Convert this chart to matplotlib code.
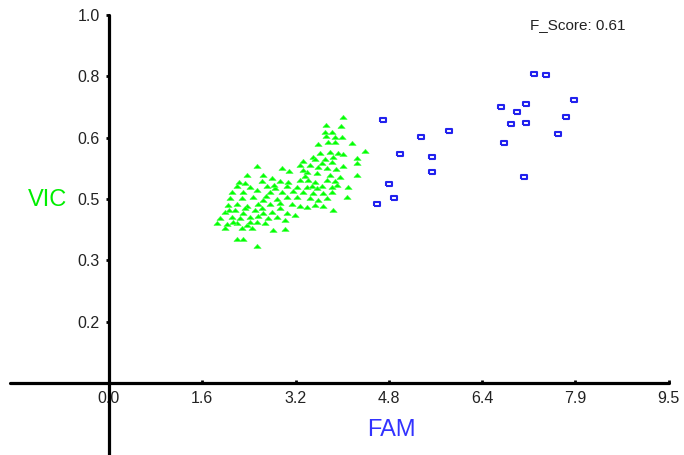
import matplotlib
matplotlib.use("Agg")
import matplotlib.pyplot as plt

# green class (triangles): FAM, VIC
green_x = [3.97, 3.68, 3.94, 3.67, 3.79, 3.68, 3.84, 3.96, 3.55, 3.72, 3.84, 4.13, 4.35,
           3.58, 3.75, 3.89, 3.97, 3.46, 3.80, 3.29, 3.50, 3.67, 4.21, 4.21, 3.79,
           2.51, 2.94, 3.06, 3.24, 3.41, 3.55, 3.70, 3.85, 3.97,
           2.34, 2.61, 2.77, 3.36, 3.53, 3.75, 3.92, 4.21,
           2.21, 2.31, 2.60, 2.90, 3.04, 3.24, 3.38, 3.50, 3.70, 3.84,
           2.17, 2.39, 2.68, 2.82, 3.02, 3.19, 3.36, 3.53, 3.79, 4.06,
           2.09, 2.28, 2.51, 2.73, 2.94, 3.12, 3.29, 3.46, 3.63, 3.79,
           2.05, 2.26, 2.44, 2.61, 2.85, 3.02, 3.19, 3.41, 3.55, 3.70, 4.04,
           2.02, 2.17, 2.34, 2.53, 2.73, 2.90, 3.11, 3.24, 3.36, 3.50, 3.63, 3.80,
           1.97, 2.14, 2.28, 2.48, 2.61, 2.77, 2.90, 3.02, 3.16,
           1.88, 2.09, 2.22, 2.39, 2.53, 2.70, 2.85, 2.99,
           1.83, 2.00, 2.17, 2.34, 2.51, 2.65,
           1.97, 2.26, 2.43, 2.78, 2.99,
           2.17, 2.28, 2.51,
           2.04, 2.11, 2.31, 2.39, 2.60, 2.67, 2.80, 3.32, 3.45, 3.62, 3.87, 3.29, 3.62]
green_y = [0.694, 0.673, 0.671, 0.655, 0.655, 0.644, 0.642, 0.642, 0.624, 0.629, 0.629, 0.626, 0.605,
           0.600, 0.603, 0.600, 0.597, 0.590, 0.590, 0.579, 0.584, 0.584, 0.587, 0.574, 0.577,
           0.566, 0.561, 0.553, 0.569, 0.569, 0.564, 0.561, 0.558, 0.566,
           0.543, 0.543, 0.535, 0.550, 0.548, 0.543, 0.537, 0.543,
           0.524, 0.522, 0.527, 0.527, 0.524, 0.530, 0.530, 0.524, 0.530, 0.527,
           0.514, 0.511, 0.514, 0.509, 0.514, 0.511, 0.511, 0.509, 0.511, 0.511,
           0.498, 0.498, 0.504, 0.498, 0.498, 0.501, 0.498, 0.496, 0.496, 0.498,
           0.483, 0.483, 0.485, 0.477, 0.480, 0.485, 0.485, 0.483, 0.477, 0.483, 0.485,
           0.464, 0.467, 0.462, 0.467, 0.467, 0.470, 0.467, 0.462, 0.459, 0.464, 0.462, 0.451,
           0.446, 0.451, 0.444, 0.451, 0.444, 0.446, 0.457, 0.444, 0.438,
           0.430, 0.433, 0.430, 0.433, 0.436, 0.430, 0.433, 0.425,
           0.417, 0.415, 0.417, 0.412, 0.420, 0.417,
           0.404, 0.404, 0.404, 0.399, 0.402,
           0.376, 0.376, 0.357,
           0.451, 0.420, 0.457, 0.420, 0.457, 0.488, 0.517, 0.540, 0.514, 0.514, 0.517, 0.556, 0.574]

# blue class (squares)
blue_x = [4.65, 4.55, 4.75, 4.84, 4.94, 5.30, 5.48, 5.48, 5.77,
          6.66, 6.83, 6.71, 6.93, 7.08, 7.08, 7.05, 7.22, 7.42, 7.62, 7.76, 7.90]
blue_y = [0.686, 0.467, 0.519, 0.483, 0.597, 0.642, 0.590, 0.550, 0.657,
          0.720, 0.676, 0.626, 0.707, 0.728, 0.678, 0.537, 0.806, 0.804, 0.650, 0.694, 0.738]

x_ticks = [0, 9.5 / 6, 9.5 * 2 / 6, 9.5 * 3 / 6, 9.5 * 4 / 6, 9.5 * 5 / 6, 9.5]
x_labels = ["0.0", "1.6", "3.2", "4.8", "6.4", "7.9", "9.5"]
y_ticks = [0.16, 0.32, 0.48, 0.64, 0.80, 0.96]
y_labels = ["0.2", "0.3", "0.5", "0.6", "0.8", "1.0"]
f_score = 0.61

plt.rcParams["font.family"] = ["Liberation Sans", "DejaVu Sans"]

# flat little triangle and wide rectangle markers, like the original tool
tri = [(-1, -0.55), (1, -0.55), (0, 0.6), (-1, -0.55)]
rect = [(-1, -0.7), (1, -0.7), (1, 0.7), (-1, 0.7), (-1, -0.7)]

fig = plt.figure(figsize=(6.84, 4.55), dpi=100)
ax = fig.add_axes([0, 0, 1, 1])
ax.set_xlim(-1.85, 9.76)
ax.set_ylim(-0.188, 0.999)

ax.plot(green_x, green_y, linestyle="none", marker=tri, markersize=5.2,
        mfc="#00ff00", mec="#55ff55", mew=0.5, zorder=3)
ax.plot(blue_x, blue_y, linestyle="none", marker=rect, markersize=5,
        mfc="white", mec="#2222ee", mew=1.5, zorder=3)

for side in ["top", "right"]:
    ax.spines[side].set_visible(False)
ax.spines["left"].set_position(("data", 0))
ax.spines["bottom"].set_position(("data", 0))
ax.spines["left"].set_bounds(-0.188, 0.96)
ax.spines["bottom"].set_bounds(-1.68, 9.5)
for side in ["left", "bottom"]:
    ax.spines[side].set_linewidth(2.3)
    ax.spines[side].set_capstyle("round")
    ax.spines[side].set_zorder(4)

ax.set_xticks(x_ticks)
ax.set_xticklabels(x_labels)
ax.set_yticks(y_ticks)
ax.set_yticklabels(y_labels)
ax.tick_params(axis="x", direction="in", length=2.5, width=2, pad=6,
               labelsize=11.5, labelcolor="#222222")
ax.tick_params(axis="y", direction="out", length=2.5, width=2, pad=4,
               labelsize=11.5, labelcolor="#222222")
for lbl in ax.get_xticklabels():
    lbl.set_zorder(1)

ax.text(-1.05, 0.477, "VIC", color="#00ee00", fontsize=17, ha="center", va="center")
ax.text(4.79, -0.123, "FAM", color="#3333ff", fontsize=17, ha="center", va="center")
ax.text(7.96, 0.934, f"F_Score: {f_score}", color="#222222", fontsize=11,
        ha="center", va="center")

fig.savefig("out.png", dpi=100)
